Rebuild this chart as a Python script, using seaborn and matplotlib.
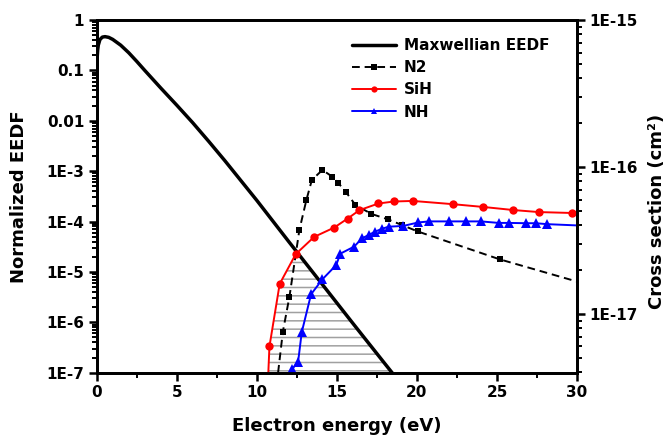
import numpy as np
import matplotlib
matplotlib.use("Agg")
import matplotlib.pyplot as plt
from matplotlib.ticker import LogLocator, NullFormatter, MultipleLocator
import seaborn as sns

# Maxwellian EEDF (left axis)
energy_eedf = [0.01, 0.03, 0.06, 0.1, 0.2, 0.35, 0.52, 0.75, 1.0, 1.5, 2.0, 2.5, 3.0,
               4.0, 5.0, 6.0, 7.0, 8.0, 10.0, 12.0, 14.0, 16.0, 18.0, 18.5, 19.0]
eedf = [0.11, 0.178, 0.251, 0.316, 0.407, 0.457, 0.467, 0.452, 0.412, 0.316, 0.224,
        0.151, 0.1, 0.0447, 0.0204, 9.12e-3, 3.89e-3, 1.62e-3, 2.63e-4, 3.98e-5,
        6.17e-6, 9.55e-7, 1.51e-7, 9.55e-8, 6.0e-8]

# cross sections (right axis, cm^2)
energy_n2 = [11.33, 11.63, 12.04, 12.66, 13.1, 13.44, 14.1, 14.71, 15.1, 15.55, 16.16,
             17.16, 18.19, 19.05, 20.05, 25.18, 30.0]
xs_n2 = [3.98e-18, 7.58e-18, 1.31e-17, 3.73e-17, 5.97e-17, 8.16e-17, 9.54e-17, 8.59e-17,
         7.75e-17, 6.79e-17, 5.51e-17, 4.79e-17, 4.40e-17, 4.03e-17, 3.64e-17, 2.35e-17,
         1.66e-17]

energy_sih = [10.72, 10.79, 11.43, 12.43, 13.58, 14.84, 15.67, 16.41, 17.6, 18.58, 19.75,
              22.25, 24.16, 26.02, 27.62, 29.69]
xs_sih = [3.98e-18, 6.0e-18, 1.60e-17, 2.55e-17, 3.34e-17, 3.87e-17, 4.45e-17, 5.08e-17,
          5.64e-17, 5.82e-17, 5.87e-17, 5.58e-17, 5.34e-17, 5.09e-17, 4.93e-17, 4.86e-17]

energy_nh = [12.22, 12.58, 12.81, 13.39, 14.1, 14.96, 15.22, 16.08, 16.58, 16.98, 17.39,
             17.81, 18.23, 19.16, 20.08, 20.77, 22.02, 23.08, 24.0, 25.1, 25.77, 26.81,
             27.43, 28.13, 30.0]
xs_nh = [4.22e-18, 4.72e-18, 7.52e-18, 1.36e-17, 1.72e-17, 2.15e-17, 2.57e-17, 2.87e-17,
         3.27e-17, 3.44e-17, 3.63e-17, 3.79e-17, 3.92e-17, 3.97e-17, 4.19e-17, 4.26e-17,
         4.26e-17, 4.26e-17, 4.26e-17, 4.16e-17, 4.16e-17, 4.14e-17, 4.14e-17, 4.08e-17,
         4.0e-17]

left_ticks = [1, 0.1, 0.01, 1e-3, 1e-4, 1e-5, 1e-6, 1e-7]
left_labels = ["1", "0.1", "0.01", "1E-3", "1E-4", "1E-5", "1E-6", "1E-7"]
right_ticks = [1e-15, 1e-16, 1e-17]
right_labels = ["1E-15", "1E-16", "1E-17"]
left_lim = (1e-7, 1)
right_lim = (3.98e-18, 1e-15)

sns.set_style("ticks")
plt.rcParams["font.family"] = ["DejaVu Sans"]
plt.rcParams["font.weight"] = "bold"
plt.rcParams["axes.labelweight"] = "bold"
plt.rcParams["text.color"] = "black"
plt.rcParams["axes.labelcolor"] = "black"
plt.rcParams["xtick.color"] = "black"
plt.rcParams["ytick.color"] = "black"
plt.rcParams["hatch.color"] = "#a0a0a0"
plt.rcParams["hatch.linewidth"] = 1.1

fig = plt.figure(figsize=(6.71, 4.42), dpi=100)
ax = fig.add_axes([0.1441, 0.1568, 0.7158, 0.798])
ax.set_yscale("log")
ax.set_xlim(0, 30)
ax.set_ylim(*left_lim)
ax2 = ax.twinx()
ax2.set_yscale("log")
ax2.set_ylim(*right_lim)

# hatched overlap of EEDF and SiH cross section (in display terms)
xg = np.linspace(10.5, 19.5, 1500)
eedf_log = np.interp(xg, energy_eedf, np.log10(eedf))
sih_log = np.interp(xg, energy_sih, np.log10(xs_sih), left=-30)
r0, r1 = np.log10(right_lim)
l0, l1 = np.log10(left_lim)
sih_on_left = l0 + (sih_log - r0) / (r1 - r0) * (l1 - l0)
top = np.minimum(eedf_log, sih_on_left)
ax.fill_between(xg, 1e-7, 10 ** top, where=top > l0, facecolor="none",
                edgecolor="#a0a0a0", hatch="--", linewidth=0, zorder=1)

sns.lineplot(x=energy_eedf, y=eedf, ax=ax, color="black", linewidth=2.5, zorder=3)
h_eedf = ax.lines[-1]

sns.lineplot(x=energy_n2, y=xs_n2, ax=ax2, color="black", linewidth=1.4,
             linestyle=(0, (4, 2.5)), marker="s", markersize=5, markeredgewidth=0,
             markevery=list(range(1, len(energy_n2) - 1)))
h_n2 = ax2.lines[-1]
sns.lineplot(x=energy_sih, y=xs_sih, ax=ax2, color="#ff0000", linewidth=1.4,
             marker="o", markersize=6, markeredgewidth=0,
             markevery=list(range(1, len(energy_sih))))
h_sih = ax2.lines[-1]
sns.lineplot(x=energy_nh, y=xs_nh, ax=ax2, color="#0000ff", linewidth=1.4,
             marker="^", markersize=6.5, markeredgewidth=0,
             markevery=list(range(0, len(energy_nh) - 1)))
h_nh = ax2.lines[-1]

# axes styling
ax.set_yticks(left_ticks)
ax.set_yticklabels(left_labels)
ax.yaxis.set_minor_locator(LogLocator(base=10, subs=np.arange(2, 10), numticks=20))
ax.yaxis.set_minor_formatter(NullFormatter())
ax.xaxis.set_major_locator(MultipleLocator(5))
ax.xaxis.set_minor_locator(MultipleLocator(2.5))
ax2.set_yticks(right_ticks)
ax2.set_yticklabels(right_labels)
ax2.yaxis.set_minor_locator(LogLocator(base=10, subs=np.arange(2, 10), numticks=20))
ax2.yaxis.set_minor_formatter(NullFormatter())

for a in (ax, ax2):
    a.tick_params(which="major", direction="out", length=6, width=1.8,
                  labelsize=11, pad=3, colors="black")
    a.tick_params(which="minor", direction="out", length=3.5, width=1.4,
                  colors="black")
    for s in a.spines.values():
        s.set_linewidth(2)
        s.set_color("black")
ax.tick_params(top=False, right=False, which="both")

ax.set_xlabel("Electron energy (eV)", fontsize=13, labelpad=12)
ax.set_ylabel("Normalized EEDF", fontsize=13, labelpad=13)
ax2.set_ylabel("Cross section (cm²)", fontsize=13)
ax2.yaxis.set_label_coords(1.147, 0.456)

ax2.legend([h_eedf, h_n2, h_sih, h_nh], ["Maxwellian EEDF", "N2", "SiH", "NH"],
           loc="upper left", bbox_to_anchor=(0.5316, 0.949), frameon=False,
           fontsize=11, handlelength=2.9, handletextpad=0.5, labelspacing=0.47,
           borderpad=0, borderaxespad=0, markerscale=0.75)

fig.savefig("out.png", dpi=100)
